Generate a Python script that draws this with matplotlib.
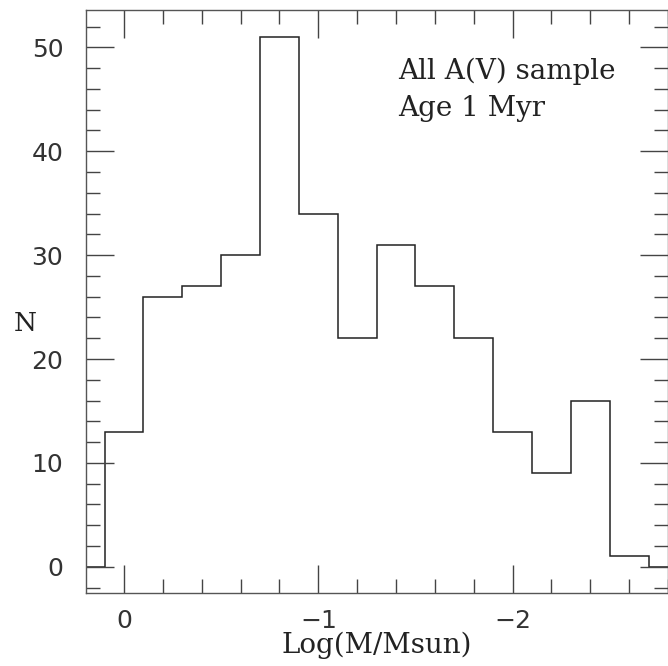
import matplotlib

matplotlib.use("Agg")
import matplotlib.pyplot as plt  # noqa: E402
from matplotlib.ticker import FuncFormatter, MultipleLocator  # noqa: E402

# histogram in Log(M/Msun), bins of 0.2 dex (empty bins padded at both ends)
bin_edges = [0.3, 0.1, -0.1, -0.3, -0.5, -0.7, -0.9, -1.1, -1.3, -1.5,
             -1.7, -1.9, -2.1, -2.3, -2.5, -2.7, -2.9]
counts = [0, 13, 26, 27, 30, 51, 34, 22, 31, 27, 22, 13, 9, 16, 1, 0]
notes = ["All A(V) sample", "Age 1 Myr"]

ink = "#222222"
fig = plt.figure(figsize=(6.68, 6.66), dpi=100)
ax = fig.add_axes([0.129, 0.11, 0.871, 0.875])

ax.stairs(counts, bin_edges, color=ink, linewidth=1.1, baseline=None)

ax.set_xlim(0.195, -2.8)
ax.set_ylim(-2.5, 53.6)
ax.xaxis.set_major_locator(MultipleLocator(1))
ax.xaxis.set_minor_locator(MultipleLocator(0.2))
ax.yaxis.set_major_locator(MultipleLocator(10))
ax.yaxis.set_minor_locator(MultipleLocator(2))
ax.tick_params(which="both", direction="in", top=True, right=True,
               color="#444444", width=1.0)
ax.tick_params(which="major", length=20, labelsize=18, labelcolor="#333333")
ax.tick_params(which="minor", length=10)
ax.tick_params(axis="x", which="major", pad=11.5)
ax.tick_params(axis="y", which="major", pad=16.5)
for s in ax.spines.values():
    s.set_color("#555555")
    s.set_linewidth(1.0)
ax.xaxis.set_major_formatter(
    FuncFormatter(lambda v, p: f"{v:.0f}".replace("-", "\u2212")))

ax.set_xlabel("Log(M/Msun)", fontsize=20, family="DejaVu Serif", labelpad=-1,
              color=ink)
ax.set_ylabel("N", fontsize=19, family="DejaVu Serif", rotation=0, color=ink)
ax.yaxis.set_label_coords(-0.105, 0.44)

for i, t in enumerate(notes):
    ax.text(0.536, 0.882 - i * 0.064, t, transform=ax.transAxes, va="baseline",
            fontsize=20, family="DejaVu Serif", color=ink)

fig.savefig("out.png")
